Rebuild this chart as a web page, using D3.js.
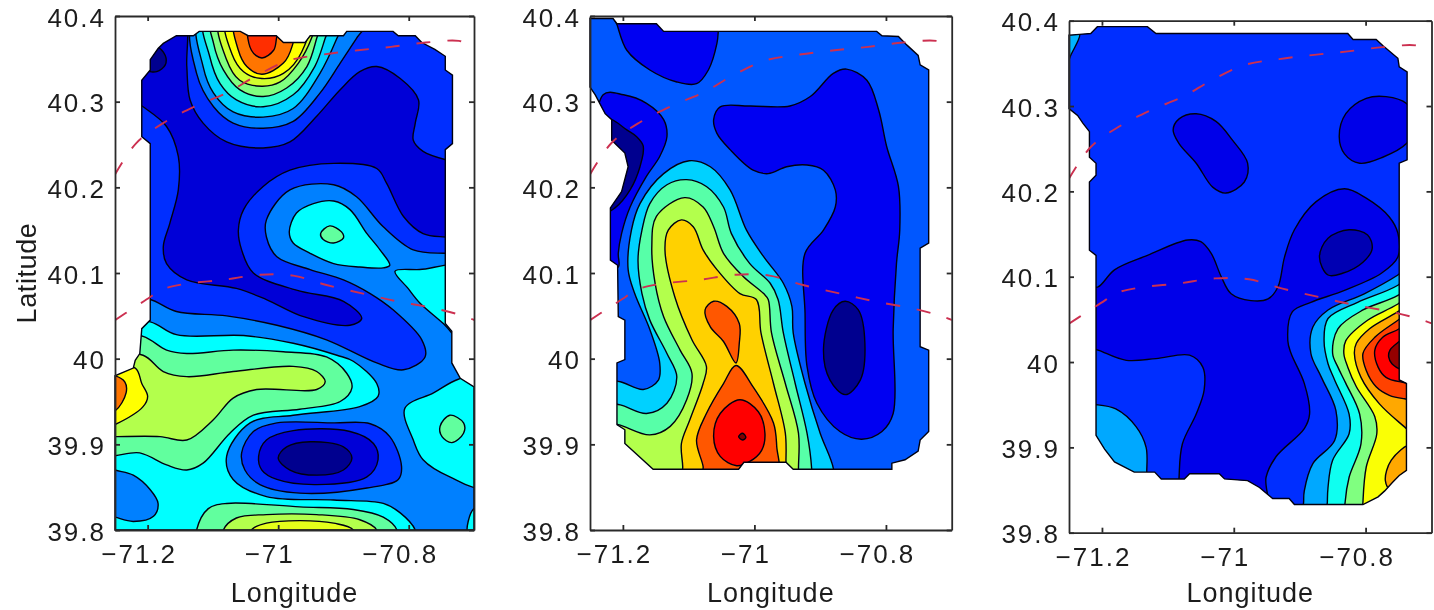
<!DOCTYPE html>
<html>
<head>
<meta charset="utf-8">
<script src="https://cdnjs.cloudflare.com/ajax/libs/d3/7.8.5/d3.min.js"></script>
<style>
  html, body { margin: 0; background: white; }
  svg { display: block; filter: blur(0.45px); }
  text { font-family: "Liberation Sans", Arial, sans-serif; fill: #1c1c1c; }
</style>
</head>
<body>
<div id="container"></div>
<script>
const lonDomain = [-71.25, -70.7]
const latDomain = [39.8, 40.4]
const lonTicks = [-71.2, -71, -70.8]
const lonTickLabels = ['\u221271.2', '\u221271', '\u221270.8']
const latTicks = [39.8, 39.9, 40, 40.1, 40.2, 40.3, 40.4]
const latTickLabels = ['39.8', '39.9', '40', '40.1', '40.2', '40.3', '40.4']

// the two dashed depth lines, same on every panel
const northLine = [[-71.25,40.215],[-71.217,40.252],[-71.174,40.276],[-71.126,40.295],[-71.077,40.311],[-71.034,40.33],[-70.984,40.348],[-70.931,40.355],[-70.878,40.36],[-70.827,40.364],[-70.774,40.369],[-70.723,40.371],[-70.7,40.365]]
const southLine = [[-71.25,40.045],[-71.222,40.059],[-71.196,40.072],[-71.181,40.08],[-71.145,40.087],[-71.084,40.092],[-71.028,40.098],[-70.977,40.097],[-70.926,40.086],[-70.87,40.076],[-70.818,40.067],[-70.762,40.059],[-70.721,40.051],[-70.699,40.045]]

// panel 1 (lon, lat outlines)
const panel1Mask = [[-71.121,40.382],[-71.058,40.382],[-71.046,40.377],[-71.003,40.377],[-70.992,40.369],[-70.959,40.369],[-70.951,40.377],[-70.9,40.377],[-70.895,40.382],[-70.824,40.382],[-70.816,40.377],[-70.79,40.377],[-70.78,40.369],[-70.76,40.361],[-70.744,40.353],[-70.744,40.337],[-70.733,40.331],[-70.733,40.251],[-70.744,40.244],[-70.744,40.041],[-70.734,40.032],[-70.734,39.995],[-70.721,39.977],[-70.7,39.967],[-70.7,39.8],[-71.25,39.8],[-71.25,39.98],[-71.222,39.989],[-71.219,39.998],[-71.212,40.006],[-71.209,40.035],[-71.196,40.045],[-71.196,40.251],[-71.209,40.259],[-71.209,40.325],[-71.196,40.337],[-71.196,40.349],[-71.184,40.362],[-71.176,40.368],[-71.156,40.377],[-71.13,40.377]]
const panel1Base = 0.25
const panel1Levels = [0.17, 0.08, 0, 0.25, 0.33, 0.42, 0.5, 0.58, 0.625, 0.76, 0.83, 0.375, 0.47, 0.375, 0.375, 0.25, 0.17, 0.08, 0, 0.375, 0.47, 0.375, 0.47, 0.55, 0.625, 0.76, 0.47, 0.55, 0.6]
const panel1Rings = [
  [[-71.222,40.069],[-71.196,40.069],[-71.156,40.055],[-71.079,40.05],[-71.002,40.039],[-70.926,40.022],[-70.849,39.995],[-70.808,39.987],[-70.775,40.002],[-70.78,40.022],[-70.824,40.057],[-70.859,40.076],[-70.9,40.092],[-70.951,40.104],[-71.002,40.119],[-71.018,40.142],[-71.018,40.162],[-70.982,40.197],[-70.915,40.203],[-70.88,40.189],[-70.839,40.154],[-70.793,40.127],[-70.744,40.123],[-70.711,40.123],[-70.711,40.399],[-71.222,40.399]],
  [[-71.143,40.395],[-71.14,40.341],[-71.135,40.302],[-71.115,40.275],[-71.079,40.253],[-71.023,40.246],[-70.982,40.253],[-70.941,40.283],[-70.905,40.314],[-70.875,40.335],[-70.849,40.341],[-70.813,40.327],[-70.785,40.302],[-70.79,40.275],[-70.793,40.255],[-70.778,40.242],[-70.742,40.232],[-70.711,40.228],[-70.711,40.141],[-70.744,40.142],[-70.778,40.146],[-70.808,40.166],[-70.834,40.205],[-70.849,40.222],[-70.915,40.228],[-70.982,40.22],[-71.023,40.201],[-71.053,40.174],[-71.061,40.15],[-71.056,40.127],[-71.038,40.1],[-70.972,40.08],[-70.9,40.067],[-70.872,40.047],[-70.89,40.039],[-70.961,40.049],[-71.018,40.069],[-71.064,40.082],[-71.14,40.092],[-71.171,40.111],[-71.176,40.131],[-71.166,40.158],[-71.153,40.197],[-71.153,40.236],[-71.171,40.271],[-71.207,40.294],[-71.232,40.306],[-71.232,40.341],[-71.196,40.36]],
  [[-71.201,40.353],[-71.186,40.364],[-71.173,40.354],[-71.173,40.343],[-71.186,40.335],[-71.201,40.337]],
  [[-71.127,40.399],[-71.125,40.333],[-71.099,40.294],[-71.069,40.275],[-71.023,40.269],[-70.977,40.277],[-70.936,40.31],[-70.905,40.345],[-70.88,40.374],[-70.859,40.399]],
  [[-71.12,40.399],[-71.115,40.341],[-71.099,40.31],[-71.069,40.288],[-71.023,40.282],[-70.977,40.292],[-70.936,40.333],[-70.91,40.374],[-70.898,40.399]],
  [[-71.112,40.399],[-71.105,40.353],[-71.089,40.321],[-71.064,40.302],[-71.023,40.294],[-70.977,40.308],[-70.944,40.341],[-70.928,40.374],[-70.918,40.399]],
  [[-71.102,40.399],[-71.099,40.368],[-71.084,40.337],[-71.059,40.314],[-71.023,40.306],[-70.987,40.316],[-70.956,40.341],[-70.941,40.374],[-70.933,40.399]],
  [[-71.089,40.399],[-71.079,40.349],[-71.059,40.325],[-71.025,40.318],[-70.997,40.323],[-70.969,40.345],[-70.949,40.374],[-70.941,40.399]],
  [[-71.079,40.399],[-71.071,40.356],[-71.053,40.335],[-71.025,40.327],[-70.992,40.333],[-70.964,40.358],[-70.954,40.399]],
  [[-71.066,40.399],[-71.061,40.36],[-71.048,40.341],[-71.025,40.332],[-70.992,40.345],[-70.979,40.364],[-70.974,40.399]],
  [[-71.044,40.399],[-71.041,40.36],[-71.025,40.351],[-71.007,40.36],[-71.003,40.372],[-71.002,40.399]],
  [[-70.983,40.148],[-70.972,40.17],[-70.946,40.181],[-70.915,40.184],[-70.89,40.174],[-70.864,40.146],[-70.844,40.127],[-70.829,40.109],[-70.839,40.106],[-70.875,40.107],[-70.915,40.111],[-70.951,40.123],[-70.977,40.135]],
  [[-70.935,40.146],[-70.921,40.155],[-70.903,40.148],[-70.9,40.141],[-70.915,40.135],[-70.931,40.139]],
  [[-70.821,40.102],[-70.783,40.104],[-70.711,40.106],[-70.711,40.014],[-70.747,40.041],[-70.783,40.065],[-70.801,40.082]],
  [[-71.273,40.045],[-71.196,40.043],[-71.156,40.028],[-71.053,40.027],[-70.977,40.018],[-70.91,40.004],[-70.885,39.997],[-70.849,39.971],[-70.847,39.956],[-70.875,39.944],[-70.977,39.934],[-71.043,39.925],[-71.079,39.886],[-71.069,39.859],[-71.018,39.839],[-70.915,39.835],[-70.839,39.831],[-70.813,39.82],[-70.79,39.8],[-70.788,39.773],[-71.273,39.773]],
  [[-71.273,39.876],[-71.25,39.87],[-71.222,39.864],[-71.196,39.847],[-71.184,39.831],[-71.191,39.816],[-71.222,39.81],[-71.25,39.815],[-71.273,39.82]],
  [[-71.056,39.89],[-71.038,39.915],[-71.002,39.925],[-70.915,39.925],[-70.859,39.924],[-70.829,39.909],[-70.811,39.874],[-70.816,39.859],[-70.864,39.849],[-70.967,39.843],[-71.028,39.853],[-71.051,39.87]],
  [[-71.03,39.886],[-71.018,39.905],[-70.977,39.916],[-70.89,39.915],[-70.854,39.901],[-70.847,39.882],[-70.864,39.862],[-70.941,39.853],[-71.002,39.859],[-71.025,39.87]],
  [[-71,39.884],[-70.987,39.897],[-70.951,39.903],[-70.9,39.897],[-70.887,39.884],[-70.9,39.87],[-70.941,39.864],[-70.982,39.87]],
  [[-70.806,39.942],[-70.762,39.96],[-70.724,39.976],[-70.686,39.979],[-70.686,39.851],[-70.737,39.862],[-70.778,39.882],[-70.793,39.905]],
  [[-70.752,39.921],[-70.737,39.934],[-70.716,39.925],[-70.716,39.913],[-70.734,39.902],[-70.749,39.909]],
  [[-70.709,39.795],[-70.7,39.825],[-70.68,39.825],[-70.68,39.795]],
  [[-71.207,40.026],[-71.171,40.01],[-71.14,40.006],[-71.069,40.01],[-70.992,40.008],[-70.926,40.002],[-70.895,39.983],[-70.887,39.966],[-70.905,39.95],[-70.967,39.941],[-71.038,39.934],[-71.074,39.913],[-71.115,39.878],[-71.14,39.87],[-71.171,39.876],[-71.212,39.89],[-71.273,39.89],[-71.273,40.03]],
  [[-71.207,40.004],[-71.176,39.985],[-71.14,39.979],[-71.069,39.985],[-70.977,39.991],[-70.941,39.985],[-70.928,39.973],[-70.941,39.964],[-71.033,39.964],[-71.069,39.954],[-71.099,39.929],[-71.14,39.905],[-71.181,39.909],[-71.25,39.909],[-71.273,39.909],[-71.273,40.004]],
  [[-71.219,39.989],[-71.209,39.971],[-71.2,39.956],[-71.207,39.944],[-71.25,39.923],[-71.273,39.917],[-71.273,39.989]],
  [[-71.273,39.98],[-71.25,39.98],[-71.235,39.973],[-71.233,39.96],[-71.25,39.939],[-71.273,39.936]],
  [[-71.125,39.8],[-71.107,39.825],[-71.079,39.831],[-70.967,39.827],[-70.885,39.824],[-70.839,39.815],[-70.818,39.8],[-70.818,39.777],[-71.125,39.777]],
  [[-71.084,39.8],[-71.064,39.814],[-71.018,39.818],[-70.941,39.818],[-70.875,39.812],[-70.849,39.8],[-70.849,39.777],[-71.084,39.777]],
  [[-71.041,39.8],[-71.018,39.808],[-70.967,39.811],[-70.915,39.808],[-70.885,39.8],[-70.885,39.777],[-71.041,39.777]]
]

// panel 2
const panel2Mask = [[-71.25,40.397],[-71.215,40.397],[-71.209,40.391],[-71.149,40.391],[-71.138,40.382],[-70.814,40.382],[-70.806,40.377],[-70.781,40.376],[-70.768,40.366],[-70.751,40.354],[-70.748,40.343],[-70.735,40.337],[-70.735,40.135],[-70.748,40.129],[-70.748,40.014],[-70.735,40.01],[-70.735,39.915],[-70.748,39.905],[-70.751,39.892],[-70.771,39.882],[-70.791,39.878],[-70.791,39.871],[-70.941,39.871],[-70.952,39.879],[-71.016,39.879],[-71.024,39.871],[-71.154,39.871],[-71.197,39.901],[-71.197,39.917],[-71.209,39.923],[-71.209,39.995],[-71.197,39.999],[-71.197,40.045],[-71.207,40.049],[-71.208,40.109],[-71.219,40.115],[-71.219,40.176],[-71.202,40.195],[-71.192,40.224],[-71.197,40.24],[-71.217,40.255],[-71.217,40.279],[-71.227,40.286],[-71.242,40.308],[-71.25,40.317]]
const panel2Base = 0.21
const panel2Levels = [0.11, 0.11, 0, 0.11, 0, 0.33, 0.46, 0.55, 0.67, 0.79, 0.79, 0.875, 1]
const panel2Rings = [
  [[-71.215,40.403],[-71.209,40.39],[-71.194,40.36],[-71.159,40.337],[-71.118,40.323],[-71.088,40.321],[-71.07,40.337],[-71.057,40.368],[-71.055,40.382],[-71.055,40.403]],
  [[-71.23,40.308],[-71.199,40.308],[-71.164,40.298],[-71.138,40.279],[-71.133,40.259],[-71.144,40.236],[-71.164,40.213],[-71.189,40.177],[-71.202,40.146],[-71.207,40.123],[-71.207,40.107],[-71.23,40.107]],
  [[-71.23,40.279],[-71.217,40.279],[-71.194,40.267],[-71.179,40.259],[-71.169,40.248],[-71.174,40.224],[-71.189,40.197],[-71.212,40.176],[-71.23,40.17]],
  [[-71.062,40.279],[-71.052,40.294],[-71.007,40.295],[-70.946,40.295],[-70.915,40.306],[-70.88,40.333],[-70.86,40.338],[-70.829,40.325],[-70.811,40.29],[-70.799,40.248],[-70.781,40.201],[-70.779,40.15],[-70.784,40.111],[-70.789,40.034],[-70.789,39.936],[-70.806,39.915],[-70.837,39.906],[-70.87,39.915],[-70.905,39.948],[-70.92,39.991],[-70.923,40.053],[-70.923,40.123],[-70.895,40.15],[-70.877,40.177],[-70.877,40.197],[-70.895,40.22],[-70.92,40.226],[-70.951,40.224],[-70.979,40.216],[-71.002,40.22],[-71.037,40.244],[-71.057,40.263]],
  [[-70.895,40.01],[-70.88,40.057],[-70.862,40.067],[-70.842,40.057],[-70.832,40.018],[-70.839,39.975],[-70.862,39.958],[-70.885,39.975]],
  [[-71.099,40.231],[-71.067,40.224],[-71.037,40.197],[-71.012,40.15],[-70.986,40.119],[-70.956,40.088],[-70.943,40.061],[-70.941,40.03],[-70.923,39.971],[-70.9,39.913],[-70.88,39.872],[-70.88,39.847],[-71.24,39.847],[-71.23,39.975],[-71.204,39.973],[-71.169,39.964],[-71.146,39.975],[-71.144,39.995],[-71.159,40.034],[-71.182,40.076],[-71.192,40.104],[-71.187,40.15],[-71.174,40.181],[-71.138,40.216]],
  [[-71.103,40.209],[-71.073,40.201],[-71.047,40.177],[-71.035,40.146],[-71.007,40.111],[-70.976,40.088],[-70.964,40.069],[-70.956,40.03],[-70.938,39.971],[-70.92,39.913],[-70.913,39.872],[-70.913,39.847],[-71.24,39.847],[-71.23,39.948],[-71.204,39.946],[-71.164,39.936],[-71.133,39.948],[-71.118,39.979],[-71.133,40.006],[-71.159,40.045],[-71.171,40.076],[-71.177,40.115],[-71.171,40.15],[-71.159,40.181],[-71.133,40.203]],
  [[-71.106,40.188],[-71.078,40.177],[-71.062,40.154],[-71.047,40.123],[-71.017,40.096],[-70.986,40.076],[-70.979,40.069],[-70.974,40.03],[-70.953,39.971],[-70.933,39.913],[-70.933,39.872],[-70.933,39.847],[-71.24,39.847],[-71.23,39.925],[-71.207,39.923],[-71.159,39.911],[-71.128,39.921],[-71.103,39.952],[-71.095,39.983],[-71.113,40.01],[-71.138,40.049],[-71.151,40.088],[-71.156,40.131],[-71.149,40.166]],
  [[-71.111,40.162],[-71.093,40.154],[-71.078,40.127],[-71.057,40.104],[-71.022,40.076],[-70.997,40.069],[-70.99,40.03],[-70.971,39.971],[-70.953,39.913],[-70.952,39.878],[-70.952,39.847],[-71.109,39.847],[-71.109,39.874],[-71.111,39.901],[-71.098,39.929],[-71.078,39.971],[-71.073,39.991],[-71.095,40.022],[-71.121,40.072],[-71.136,40.127],[-71.131,40.15]],
  [[-71.075,40.057],[-71.062,40.067],[-71.042,40.061],[-71.023,40.041],[-71.023,40.018],[-71.028,39.995],[-71.047,40.02],[-71.067,40.037]],
  [[-71.028,39.992],[-71.002,39.967],[-70.971,39.925],[-70.966,39.897],[-70.966,39.862],[-71.078,39.862],[-71.078,39.874],[-71.088,39.905],[-71.073,39.936],[-71.047,39.971]],
  [[-71.062,39.909],[-71.052,39.936],[-71.022,39.952],[-70.994,39.938],[-70.984,39.913],[-70.989,39.893],[-71.007,39.88],[-71.027,39.875],[-71.052,39.886]],
  [[-71.024,39.909],[-71.018,39.913],[-71.013,39.908],[-71.018,39.905]]
]

// panel 3
const panel3Mask = [[-71.25,40.383],[-71.234,40.384],[-71.217,40.385],[-71.207,40.393],[-71.131,40.393],[-71.118,40.385],[-70.827,40.385],[-70.819,40.378],[-70.784,40.378],[-70.774,40.371],[-70.751,40.356],[-70.749,40.346],[-70.737,40.34],[-70.737,40.237],[-70.749,40.233],[-70.749,39.979],[-70.738,39.975],[-70.738,39.873],[-70.749,39.867],[-70.759,39.859],[-70.771,39.849],[-70.781,39.842],[-70.804,39.833],[-70.908,39.833],[-70.916,39.84],[-70.941,39.84],[-70.961,39.853],[-70.979,39.861],[-71.014,39.863],[-71.022,39.869],[-71.067,39.869],[-71.075,39.863],[-71.11,39.863],[-71.12,39.871],[-71.151,39.871],[-71.181,39.883],[-71.196,39.898],[-71.209,39.914],[-71.209,40.125],[-71.219,40.131],[-71.219,40.211],[-71.209,40.219],[-71.209,40.233],[-71.219,40.24],[-71.219,40.27],[-71.229,40.28],[-71.237,40.289],[-71.25,40.297]]
const panel3Base = 0.17
const panel3Levels = [0.3, 0.1, 0.1, 0.1, 0.04, 0.29, 0.29, 0.39, 0.5, 0.62, 0.71, 0.71, 0.81, 0.875, 0.98]
const panel3Rings = [
  [[-71.257,40.385],[-71.234,40.385],[-71.247,40.36],[-71.254,40.348]],
  [[-71.092,40.272],[-71.083,40.285],[-71.057,40.291],[-71.027,40.282],[-71.002,40.26],[-70.979,40.233],[-70.984,40.211],[-71.012,40.198],[-71.032,40.205],[-71.057,40.233],[-71.083,40.256]],
  [[-70.84,40.264],[-70.83,40.291],[-70.799,40.309],[-70.769,40.311],[-70.738,40.303],[-70.723,40.28],[-70.738,40.256],[-70.774,40.24],[-70.809,40.233],[-70.832,40.244]],
  [[-71.224,40.088],[-71.206,40.088],[-71.181,40.108],[-71.131,40.125],[-71.07,40.143],[-71.05,40.141],[-71.034,40.127],[-71.019,40.1],[-71.004,40.08],[-70.974,40.072],[-70.948,40.074],[-70.933,40.088],[-70.923,40.123],[-70.908,40.155],[-70.875,40.188],[-70.832,40.203],[-70.799,40.192],[-70.764,40.17],[-70.751,40.151],[-70.751,40.123],[-70.776,40.104],[-70.832,40.084],[-70.883,40.07],[-70.911,40.059],[-70.918,40.025],[-70.913,40.01],[-70.893,39.975],[-70.885,39.939],[-70.893,39.922],[-70.936,39.889],[-70.951,39.865],[-70.951,39.822],[-71.083,39.822],[-71.083,39.865],[-71.078,39.904],[-71.057,39.939],[-71.045,39.967],[-71.047,39.994],[-71.067,40.008],[-71.118,40.004],[-71.163,40.002],[-71.199,40.012],[-71.224,40.022]],
  [[-70.87,40.123],[-70.857,40.145],[-70.825,40.155],[-70.797,40.149],[-70.79,40.133],[-70.804,40.117],[-70.835,40.104],[-70.857,40.102]],
  [[-71.229,39.95],[-71.209,39.95],[-71.179,39.945],[-71.148,39.924],[-71.133,39.9],[-71.132,39.871],[-71.132,39.857],[-71.229,39.857]],
  [[-70.693,40.135],[-70.751,40.102],[-70.802,40.08],[-70.857,40.061],[-70.88,40.041],[-70.883,40.01],[-70.867,39.982],[-70.845,39.943],[-70.847,39.908],[-70.88,39.881],[-70.893,39.849],[-70.894,39.836],[-70.894,39.814],[-70.693,39.814]],
  [[-70.693,40.125],[-70.751,40.09],[-70.812,40.07],[-70.857,40.051],[-70.863,40.025],[-70.857,39.998],[-70.847,39.979],[-70.825,39.939],[-70.825,39.916],[-70.85,39.885],[-70.857,39.853],[-70.858,39.836],[-70.858,39.814],[-70.693,39.814]],
  [[-70.693,40.11],[-70.751,40.078],[-70.804,40.061],[-70.842,40.039],[-70.85,40.01],[-70.842,39.994],[-70.83,39.975],[-70.809,39.939],[-70.807,39.904],[-70.825,39.865],[-70.831,39.836],[-70.831,39.814],[-70.693,39.814]],
  [[-70.693,40.1],[-70.751,40.068],[-70.797,40.049],[-70.83,40.025],[-70.833,40.01],[-70.827,39.994],[-70.814,39.971],[-70.786,39.936],[-70.783,39.916],[-70.799,39.877],[-70.804,39.836],[-70.804,39.814],[-70.693,39.814]],
  [[-70.703,40.085],[-70.751,40.059],[-70.794,40.039],[-70.814,40.022],[-70.817,40.01],[-70.807,39.982],[-70.779,39.951],[-70.741,39.924],[-70.703,39.9]],
  [[-70.733,39.902],[-70.761,39.885],[-70.77,39.861],[-70.761,39.849],[-70.733,39.849]],
  [[-70.703,40.075],[-70.751,40.049],[-70.786,40.029],[-70.804,40.01],[-70.799,39.99],[-70.784,39.971],[-70.764,39.961],[-70.741,39.957],[-70.703,39.955]],
  [[-70.723,40.055],[-70.749,40.039],[-70.774,40.029],[-70.786,40.014],[-70.781,39.994],[-70.769,39.982],[-70.749,39.977],[-70.723,39.977]],
  [[-70.728,40.035],[-70.749,40.024],[-70.763,40.014],[-70.765,40.006],[-70.76,39.998],[-70.749,39.992],[-70.728,39.985]]
]

const w = 1434
const h = 610

const panels = [
  { id: 1, mask: panel1Mask, base: panel1Base, levels: panel1Levels, rings: panel1Rings, left: 115, right: 474, top: 16, bottom: 530, yLabel: true },
  { id: 2, mask: panel2Mask, base: panel2Base, levels: panel2Levels, rings: panel2Rings, left: 590, right: 951.7, top: 16, bottom: 530 },
  { id: 3, mask: panel3Mask, base: panel3Base, levels: panel3Levels, rings: panel3Rings, left: 1069, right: 1431.5, top: 20.7, bottom: 532.7 }
]

// jet colormap, level is 0..1
const jet = d3.scaleLinear()
  .domain([0, 0.125, 0.375, 0.625, 0.875, 1])
  .range(['#00008f', '#0000ff', '#00ffff', '#ffff00', '#ff0000', '#800000'])

const svg = d3.select('#container')
  .append('svg')
    .attr('width', w)
    .attr('height', h)
    .style('background', 'white')

const drawPanel = p => {
  const x = d3.scaleLinear().domain(lonDomain).range([p.left, p.right])
  const y = d3.scaleLinear().domain(latDomain).range([p.bottom, p.top])

  const g = svg.append('g').attr('class', 'panel')

  const maskPath = d3.line().x(d => x(d[0])).y(d => y(d[1])).curve(d3.curveLinearClosed)
  const ringPath = d3.line().x(d => x(d[0])).y(d => y(d[1])).curve(d3.curveCatmullRomClosed.alpha(0.5))
  const depthPath = d3.line().x(d => x(d[0])).y(d => y(d[1])).curve(d3.curveCatmullRom.alpha(0.5))

  g.append('clipPath').attr('id', 'mask' + p.id)
    .append('path').attr('d', maskPath(p.mask))
  g.append('clipPath').attr('id', 'box' + p.id)
    .append('rect')
      .attr('x', p.left).attr('y', p.top)
      .attr('width', p.right - p.left).attr('height', p.bottom - p.top)

  g.append('path')
    .attr('d', maskPath(p.mask))
    .attr('fill', jet(p.base))

  g.append('g')
    .attr('clip-path', `url(#mask${p.id})`)
    .selectAll('path')
    .data(p.rings)
    .enter()
    .append('path')
      .attr('d', ringPath)
      .attr('fill', (d, i) => jet(p.levels[i]))
      .attr('stroke', '#000010')
      .attr('stroke-width', 1.4)

  g.append('path')
    .attr('d', maskPath(p.mask))
    .attr('fill', 'none')
    .attr('stroke', '#000010')
    .attr('stroke-width', 1.4)

  g.append('g')
    .attr('clip-path', `url(#box${p.id})`)
    .selectAll('path')
    .data([northLine, southLine])
    .enter()
    .append('path')
      .attr('d', depthPath)
      .attr('fill', 'none')
      .attr('stroke', '#cc3050')
      .attr('stroke-width', 1.9)
      .attr('stroke-dasharray', '14 17')

  const bottomAxis = d3.axisBottom(x).tickValues(lonTicks).tickSizeInner(-5).tickSizeOuter(0)
    .tickFormat((d, i) => lonTickLabels[i])
  const topAxis = d3.axisTop(x).tickValues(lonTicks).tickSizeInner(-5).tickSizeOuter(0).tickFormat('')
  const leftAxis = d3.axisLeft(y).tickValues(latTicks).tickSizeInner(-5).tickSizeOuter(0)
    .tickFormat((d, i) => latTickLabels[i])
  const rightAxis = d3.axisRight(y).tickValues(latTicks).tickSizeInner(-5).tickSizeOuter(0).tickFormat('')

  const xLabels = g.append('g').attr('class', 'axis').attr('transform', `translate(0, ${p.bottom})`).call(bottomAxis)
  g.append('g').attr('class', 'axis').attr('transform', `translate(0, ${p.top})`).call(topAxis)
  const yLabels = g.append('g').attr('class', 'axis').attr('transform', `translate(${p.left}, 0)`).call(leftAxis)
  g.append('g').attr('class', 'axis').attr('transform', `translate(${p.right}, 0)`).call(rightAxis)

  g.selectAll('.axis path, .axis line')
    .attr('stroke', '#2a2a2a')
    .attr('stroke-width', 1.8)

  g.selectAll('.axis text')
    .attr('font-size', 26)
    .attr('letter-spacing', 2)
    .attr('fill', '#1c1c1c')
    .style('font-family', '"Liberation Sans", Arial, sans-serif')

  xLabels.selectAll('text')
    .attr('y', 15)
    .attr('dx', -9)
  yLabels.selectAll('text')
    .attr('x', -9)
    .attr('dy', 10)

  g.append('text')
    .attr('x', (p.left + p.right) / 2)
    .attr('y', 602)
    .attr('text-anchor', 'middle')
    .attr('font-size', 27)
    .attr('letter-spacing', 1)
    .text('Longitude')

  if (p.yLabel) {
    g.append('text')
      .attr('transform', `translate(36, ${(p.top + p.bottom) / 2}) rotate(-90)`)
      .attr('text-anchor', 'middle')
      .attr('font-size', 27)
      .attr('letter-spacing', 0.6)
      .text('Latitude')
  }
}

panels.forEach(drawPanel)
</script>
</body>
</html>
